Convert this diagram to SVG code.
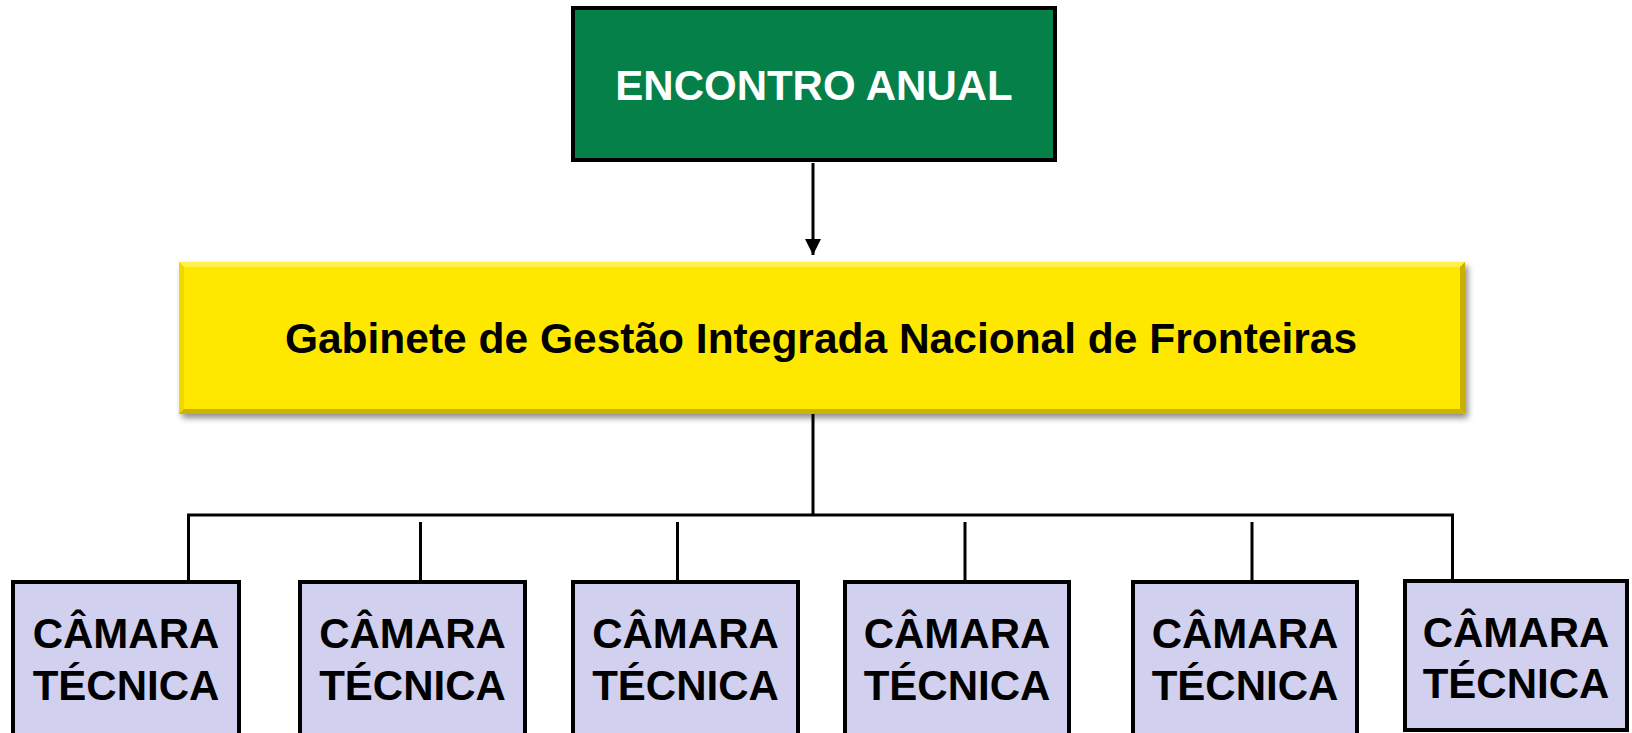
<svg xmlns="http://www.w3.org/2000/svg" width="1632" height="733" viewBox="0 0 1632 733">
  <style>
    .lbl { font-family: "Liberation Sans", Arial, sans-serif; font-weight: bold; text-anchor: middle; }
    .cam rect { fill: #D1D1EF; stroke: #000; stroke-width: 4; }
    .cam text { font-size: 42px; fill: #000; }
    .conn { stroke: #000; stroke-width: 3; fill: none; }
  </style>
  <defs>
    <marker id="arr" markerWidth="16" markerHeight="16" refX="16" refY="8" orient="auto" markerUnits="userSpaceOnUse">
      <path d="M0,0 L16,8 L0,16 Z" fill="#000"/>
    </marker>
    <filter id="shadow" x="-5%" y="-20%" width="110%" height="140%">
      <feGaussianBlur in="SourceAlpha" stdDeviation="3"/>
      <feOffset dx="3" dy="4" result="b"/>
      <feComponentTransfer><feFuncA type="linear" slope="0.45"/></feComponentTransfer>
      <feMerge><feMergeNode/><feMergeNode in="SourceGraphic"/></feMerge>
    </filter>
  </defs>
  <rect width="1632" height="733" fill="#fff"/>

  <g id="connectors">
    <line class="conn" x1="813" y1="163" x2="813" y2="255" marker-end="url(#arr)"/>
    <line class="conn" x1="813" y1="414" x2="813" y2="515"/>
    <polyline class="conn" points="188.5,580 188.5,515 1452.5,515 1452.5,579"/>
    <line class="conn" x1="420.5" y1="522" x2="420.5" y2="580"/>
    <line class="conn" x1="677.5" y1="522" x2="677.5" y2="580"/>
    <line class="conn" x1="965" y1="522" x2="965" y2="580"/>
    <line class="conn" x1="1252" y1="522" x2="1252" y2="580"/>
  </g>

  <g id="encontro-anual">
    <rect x="573" y="8" width="482" height="152" fill="#048048" stroke="#000" stroke-width="4"/>
    <text class="lbl" x="814" y="100" font-size="42" fill="#fff">ENCONTRO ANUAL</text>
  </g>

  <g id="gabinete">
    <g filter="url(#shadow)">
      <rect x="179" y="262" width="1286" height="152" fill="#FFE800"/>
    </g>
    <polygon points="179,262 1465,262 1460,267 184,267" fill="#FFF04A"/>
    <polygon points="179,262 184,267 184,409 179,414" fill="#EFD700"/>
    <polygon points="179,414 184,409 1460,409 1465,414" fill="#CDB300"/>
    <polygon points="1465,262 1465,414 1460,409 1460,267" fill="#C9B000"/>
    <text class="lbl" x="821" y="353" font-size="42.5" fill="#000">Gabinete de Gestão Integrada Nacional de Fronteiras</text>
  </g>

  <g id="camara1" class="cam">
    <rect x="13" y="582" width="226" height="180"/>
    <text class="lbl" x="126" y="648">CÂMARA</text>
    <text class="lbl" x="126" y="700">TÉCNICA</text>
  </g>
  <g id="camara2" class="cam">
    <rect x="300" y="582" width="225" height="180"/>
    <text class="lbl" x="412.5" y="648">CÂMARA</text>
    <text class="lbl" x="412.5" y="700">TÉCNICA</text>
  </g>
  <g id="camara3" class="cam">
    <rect x="573" y="582" width="225" height="180"/>
    <text class="lbl" x="685.5" y="648">CÂMARA</text>
    <text class="lbl" x="685.5" y="700">TÉCNICA</text>
  </g>
  <g id="camara4" class="cam">
    <rect x="845" y="582" width="224" height="180"/>
    <text class="lbl" x="957" y="648">CÂMARA</text>
    <text class="lbl" x="957" y="700">TÉCNICA</text>
  </g>
  <g id="camara5" class="cam">
    <rect x="1133" y="582" width="224" height="180"/>
    <text class="lbl" x="1245" y="648">CÂMARA</text>
    <text class="lbl" x="1245" y="700">TÉCNICA</text>
  </g>
  <g id="camara6" class="cam">
    <rect x="1405" y="581" width="222" height="149"/>
    <text class="lbl" x="1516" y="647">CÂMARA</text>
    <text class="lbl" x="1516" y="698">TÉCNICA</text>
  </g>
</svg>
